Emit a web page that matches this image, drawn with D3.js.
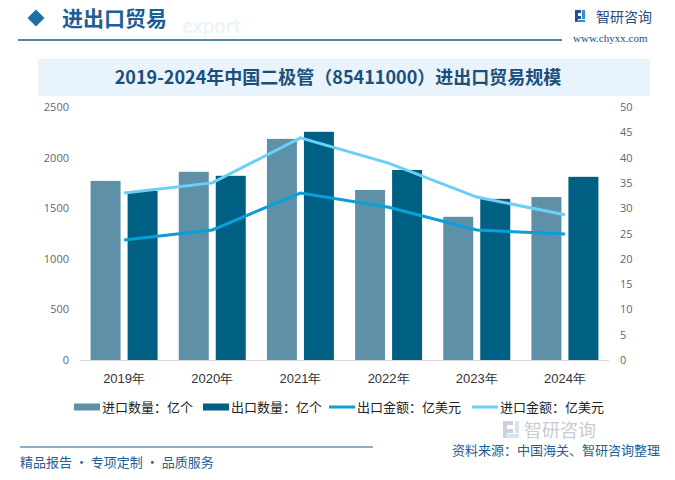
<!DOCTYPE html>
<html>
<head>
<meta charset="utf-8">
<script src="https://cdn.jsdelivr.net/npm/d3@7"></script>
<style>
  body { margin: 0; background: #fff; }
  svg { display: block; font-family: "Noto Sans CJK SC", "Noto Sans", sans-serif; }
</style>
</head>
<body>
<div id="chart"></div>
<script>
  var years = ['2019年', '2020年', '2021年', '2022年', '2023年', '2024年'];
  var importQty = [1770, 1860, 2185, 1680, 1415, 1610];   // 亿个
  var exportQty = [1670, 1820, 2255, 1878, 1592, 1810];   // 亿个
  var exportAmt = [23.7, 25.7, 33.0, 30.2, 25.7, 24.9];   // 亿美元
  var importAmt = [33.0, 35.0, 43.9, 38.9, 32.2, 28.7];   // 亿美元
  var leftTicks = [0, 500, 1000, 1500, 2000, 2500];
  var rightTicks = [0, 5, 10, 15, 20, 25, 30, 35, 40, 45, 50];

  var width = 675, height = 480;
  var plot = { left: 80, right: 609, top: 107, bottom: 360 };
  var blue = '#1d5e96';

  var svg = d3.select('#chart').append('svg')
      .attr('width', width).attr('height', height);

  // header
  svg.append('text').attr('x', 182).attr('y', 33)
      .attr('font-size', 20).attr('font-weight', 'bold').attr('fill', '#edf4fa')
      .attr('font-family', 'Lato, sans-serif')
      .text('export');
  svg.append('rect').attr('x', 30).attr('y', 12).attr('width', 12).attr('height', 12)
      .attr('transform', 'rotate(45 36 18)').attr('fill', '#1f6ea8');
  svg.append('text').attr('x', 62).attr('y', 26)
      .attr('font-size', 21).attr('font-weight', 'bold').attr('fill', blue)
      .text('进出口贸易');
  svg.append('line').attr('x1', 18).attr('x2', 562).attr('y1', 40).attr('y2', 40)
      .attr('stroke', '#1d5e8a').attr('stroke-width', 1.5);

  // logo
  var logo = svg.append('g').attr('transform', 'translate(575,10)');
  logo.append('path').attr('d', 'M0,0H6V3H3V6H6V9H3V12H0Z').attr('fill', '#2a4f8f');
  logo.append('path').attr('d', 'M7,0H10V9H7Z M2,10H10V12H2Z').attr('fill', '#2e8fd6');
  svg.append('text').attr('x', 596).attr('y', 22)
      .attr('font-size', 14).attr('fill', '#2a4a80').text('智研咨询');
  svg.append('text').attr('x', 573).attr('y', 42)
      .attr('font-size', 11).attr('fill', '#2a4a80')
      .attr('font-family', '"Liberation Serif", serif').text('www.chyxx.com');

  // title band
  svg.append('rect').attr('x', 38).attr('y', 59).attr('width', 612).attr('height', 37)
      .attr('fill', '#e8f3fb');
  svg.append('text').attr('x', 338).attr('y', 84).attr('text-anchor', 'middle')
      .attr('font-size', 18).attr('font-weight', 'bold').attr('fill', '#1b4f7b')
      .text('2019-2024年中国二极管（85411000）进出口贸易规模');

  // scales
  var x = d3.scaleBand().domain(years).range([plot.left, plot.right]);
  var yL = d3.scaleLinear().domain([0, 2500]).range([plot.bottom, plot.top]);
  var yR = d3.scaleLinear().domain([0, 50]).range([plot.bottom, plot.top]);
  var barW = 30, gap = 7;

  // axes
  var axL = svg.append('g').attr('transform', 'translate(' + plot.left + ',0)')
      .call(d3.axisLeft(yL).tickValues(leftTicks).tickFormat(d3.format('d')).tickSize(0).tickPadding(11));
  var axR = svg.append('g').attr('transform', 'translate(' + plot.right + ',0)')
      .call(d3.axisRight(yR).tickValues(rightTicks).tickFormat(d3.format('d')).tickSize(0).tickPadding(11));
  [axL, axR].forEach(function(a) {
    a.select('.domain').remove();
    a.selectAll('text').attr('font-size', 11).attr('fill', '#666')
        .attr('font-family', '"Open Sans", "Noto Sans", sans-serif');
  });

  svg.append('line').attr('x1', plot.left).attr('x2', plot.right)
      .attr('y1', plot.bottom + 0.5).attr('y2', plot.bottom + 0.5)
      .attr('stroke', '#d9d9d9');

  var axX = svg.append('g').attr('transform', 'translate(0,' + plot.bottom + ')')
      .call(d3.axisBottom(x).tickSize(0).tickPadding(14));
  axX.select('.domain').remove();
  axX.selectAll('text').attr('font-size', 13).attr('fill', '#333');

  // bars
  svg.append('g').selectAll('rect').data(importQty).enter().append('rect')
      .attr('x', function(d, i) { return x(years[i]) + x.bandwidth() / 2 - gap / 2 - barW; })
      .attr('y', function(d) { return yL(d); })
      .attr('width', barW)
      .attr('height', function(d) { return plot.bottom - yL(d); })
      .attr('fill', '#5e91a8');
  svg.append('g').selectAll('rect').data(exportQty).enter().append('rect')
      .attr('x', function(d, i) { return x(years[i]) + x.bandwidth() / 2 + gap / 2; })
      .attr('y', function(d) { return yL(d); })
      .attr('width', barW)
      .attr('height', function(d) { return plot.bottom - yL(d); })
      .attr('fill', '#006083');

  // lines
  var line = d3.line()
      .x(function(d, i) { return x(years[i]) + x.bandwidth() / 2; })
      .y(function(d) { return yR(d); });
  svg.append('path').datum(importAmt).attr('d', line)
      .attr('fill', 'none').attr('stroke', '#6ccff6').attr('stroke-width', 3);
  svg.append('path').datum(exportAmt).attr('d', line)
      .attr('fill', 'none').attr('stroke', '#0a9fd9').attr('stroke-width', 3);

  // legend
  var legend = [
    { name: '进口数量：亿个', color: '#5e91a8', type: 'bar', x: 74 },
    { name: '出口数量：亿个', color: '#006083', type: 'bar', x: 203 },
    { name: '出口金额：亿美元', color: '#0a9fd9', type: 'line', x: 329 },
    { name: '进口金额：亿美元', color: '#6ccff6', type: 'line', x: 472 }
  ];
  var lg = svg.append('g').selectAll('g').data(legend).enter().append('g')
      .attr('transform', function(d) { return 'translate(' + d.x + ',407)'; });
  lg.append('rect')
      .attr('y', function(d) { return d.type === 'bar' ? -3.5 : -1.5; })
      .attr('width', 26)
      .attr('height', function(d) { return d.type === 'bar' ? 7 : 3; })
      .attr('fill', function(d) { return d.color; });
  lg.append('text').attr('x', 28).attr('y', 5).attr('font-size', 13).attr('fill', '#222')
      .text(function(d) { return d.name; });

  // bottom watermark logo
  var wm = svg.append('g').attr('transform', 'translate(503,421)').attr('opacity', 0.35);
  wm.append('path').attr('d', 'M0,0H10V4H4V8H10V12H4V17H0Z').attr('fill', '#6c7fa0');
  wm.append('path').attr('d', 'M12,0H16V12H12Z M3,13H16V17H3Z').attr('fill', '#8fb3d8');
  svg.append('text').attr('x', 524).attr('y', 437).attr('font-size', 18)
      .attr('fill', '#c9ccd1').text('智研咨询');

  // footer
  svg.append('line').attr('x1', 20).attr('x2', 373).attr('y1', 447).attr('y2', 447)
      .attr('stroke', '#1d5e8a').attr('stroke-width', 1.2);
  svg.append('text').attr('x', 452).attr('y', 455).attr('font-size', 13)
      .attr('fill', blue).text('资料来源：中国海关、智研咨询整理');
  svg.append('text').attr('x', 20).attr('y', 467).attr('font-size', 13)
      .attr('fill', blue).text('精品报告 · 专项定制 · 品质服务');
</script>
</body>
</html>
